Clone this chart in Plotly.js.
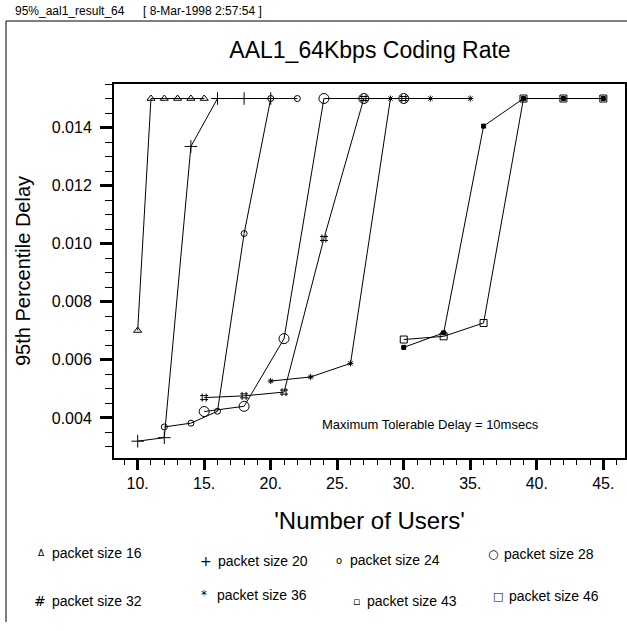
<!DOCTYPE html>
<html><head><meta charset="utf-8">
<script src="https://cdn.plot.ly/plotly-3.0.1.min.js"></script>
<style>html,body{margin:0;padding:0;background:#fff;} #chart{width:627px;height:631px;}</style>
</head><body><div id="chart"></div>
<script>
// ---- data ----
const users16 = [10, 11, 12, 13, 14, 15];
const delay16 = [0.00701, 0.0150, 0.0150, 0.0150, 0.0150, 0.0150];
const users20 = [10, 12, 14, 16, 18, 20];
const delay20 = [0.00320, 0.00332, 0.01335, 0.0150, 0.0150, 0.0150];
const users24 = [12, 14, 16, 18, 20, 22];
const delay24 = [0.00369, 0.00382, 0.00423, 0.01035, 0.0150, 0.0150];
const users28 = [15, 18, 21, 24, 27, 30];
const delay28 = [0.00422, 0.00440, 0.00673, 0.0150, 0.0150, 0.0150];
const users32 = [15, 18, 21, 24, 27, 30];
const delay32 = [0.00470, 0.00476, 0.00489, 0.01018, 0.0150, 0.0150];
const users36 = [20, 23, 26, 29, 32, 35];
const delay36 = [0.00527, 0.00541, 0.00588, 0.0150, 0.0150, 0.0150];
const users43 = [30, 33, 36, 39, 42, 45];
const delay43 = [0.00643, 0.00693, 0.01405, 0.0150, 0.0150, 0.0150];
const users46 = [30, 33, 36, 39, 42, 45];
const delay46 = [0.00670, 0.00681, 0.00727, 0.0150, 0.0150, 0.0150];

const seriesLabels = ['packet size 16','packet size 20','packet size 24','packet size 28',
                      'packet size 32','packet size 36','packet size 43','packet size 46'];
const legendGlyphs = ['\u0394','+','o','\u25CB','#','*','\u25AB','\u25A1'];

const xTickVals = [10, 15, 20, 25, 30, 35, 40, 45];
const xTickText = ['10.', '15.', '20.', '25.', '30.', '35.', '40.', '45.'];
const yTickVals = [0.004, 0.006, 0.008, 0.010, 0.012, 0.014];
const yTickText = ['0.004', '0.006', '0.008', '0.010', '0.012', '0.014'];

const headerName = '95%_aal1_result_64';
const headerDate = '[ 8-Mar-1998 2:57:54 ]';
const chartTitle = 'AAL1_64Kbps Coding Rate';
const xTitle = "'Number of Users'";
const yTitle = '95th Percentile Delay';
const noteText = 'Maximum Tolerable Delay = 10msecs';

// ---- styles ----
const W = 627, H = 631;
const px = v => v / W;
const py = v => 1 - v / H;
const FONT = 'Liberation Sans, Arial, Helvetica, sans-serif';

const xs = [users16, users20, users24, users28, users32, users36, users43, users46];
const ys = [delay16, delay20, delay24, delay28, delay32, delay36, delay43, delay46];
const markerStyles = [
  {symbol: 'triangle-up-open', size: 7},
  {symbol: 'cross-thin-open', size: 9},
  {symbol: 'circle-open', size: 6},
  {symbol: 'circle-open', size: 10},
  {symbol: 'hash-open', size: 8},
  {symbol: 'asterisk-open', size: 5},
  {symbol: 'square', size: 4},
  {symbol: 'square-open', size: 7}
];

const traces = xs.map((x, i) => ({
  type: 'scatter', mode: 'lines+markers', name: seriesLabels[i],
  x: x, y: ys[i],
  line: {color: 'black', width: 1},
  marker: {symbol: markerStyles[i].symbol, size: markerStyles[i].size, color: 'black',
           line: {color: 'black', width: 1}},
  cliponaxis: false
}));

// legend layout (pixel positions of glyph centre / text start / row centre)
const legendPos = [
  {g: 41, t: 50, y: 553, gs: 9},
  {g: 206, t: 216, y: 561, gs: 14},
  {g: 339, t: 348, y: 560, gs: 10},
  {g: 493, t: 502, y: 554, gs: 12},
  {g: 40, t: 50, y: 601, gs: 14},
  {g: 204, t: 215, y: 595, gs: 12},
  {g: 356, t: 365, y: 601, gs: 11},
  {g: 498, t: 507, y: 596, gs: 11}
];

const annotations = [];
seriesLabels.forEach((lab, i) => {
  const p = legendPos[i];
  annotations.push({xref: 'paper', yref: 'paper', x: px(p.g), y: py(p.y), xanchor: 'center', yanchor: 'middle',
    text: legendGlyphs[i], showarrow: false, font: {family: 'DejaVu Sans, ' + FONT, size: p.gs, color: 'black'}});
  annotations.push({xref: 'paper', yref: 'paper', x: px(p.t), y: py(p.y), xanchor: 'left', yanchor: 'middle',
    text: lab, showarrow: false, font: {family: FONT, size: 14, color: 'black'}});
});
annotations.push({xref: 'paper', yref: 'paper', x: px(320), y: py(424), xanchor: 'left', yanchor: 'middle',
  text: noteText, showarrow: false, font: {family: FONT, size: 13, color: 'black'}});
annotations.push({xref: 'paper', yref: 'paper', x: px(13), y: py(11), xanchor: 'left', yanchor: 'middle',
  text: headerName, showarrow: false, font: {family: FONT, size: 12, color: 'black'}});
annotations.push({xref: 'paper', yref: 'paper', x: px(141), y: py(11), xanchor: 'left', yanchor: 'middle',
  text: headerDate, showarrow: false, font: {family: FONT, size: 12, color: 'black'}});

const shapes = [
  {type: 'line', xref: 'paper', yref: 'paper', x0: px(6), x1: px(6), y0: py(21), y1: py(622), line: {color: 'black', width: 1}},
  {type: 'line', xref: 'paper', yref: 'paper', x0: px(6), x1: 1, y0: py(21), y1: py(21), line: {color: 'black', width: 1}}
];

const layout = {
  width: W, height: H,
  margin: {l: 0, r: 0, t: 0, b: 0},
  paper_bgcolor: 'white', plot_bgcolor: 'white',
  showlegend: false,
  font: {family: FONT, color: 'black'},
  title: {text: chartTitle, font: {family: FONT, size: 23, color: 'black'},
          x: px(370), xanchor: 'center', xref: 'paper', y: py(50), yanchor: 'middle', yref: 'paper'},
  xaxis: {
    domain: [px(114), px(625)], range: [8.22, 46.63],
    showgrid: false, zeroline: false,
    showline: true, mirror: true, linecolor: 'black', linewidth: 2,
    ticks: 'outside', ticklen: 10, tickwidth: 3, tickcolor: 'black',
    tickmode: 'array', tickvals: xTickVals, ticktext: xTickText,
    tickfont: {family: FONT, size: 16, color: 'black'},
    minor: {dtick: 1, tick0: 0, ticks: 'outside', ticklen: 5, tickwidth: 1, tickcolor: 'black', showgrid: false},
    title: {text: xTitle, font: {family: FONT, size: 24, color: 'black'}, standoff: 21}
  },
  yaxis: {
    domain: [py(458), py(84)], range: [0.00262, 0.0155],
    showgrid: false, zeroline: false,
    showline: true, mirror: true, linecolor: 'black', linewidth: 2,
    ticks: 'outside', ticklen: 12, tickwidth: 3, tickcolor: 'black',
    tickmode: 'array', tickvals: yTickVals, ticktext: yTickText,
    ticklabelstandoff: 5,
    tickfont: {family: FONT, size: 16, color: 'black'},
    minor: {dtick: 0.0005, tick0: 0, ticks: 'outside', ticklen: 7, tickwidth: 1, tickcolor: 'black', showgrid: false},
    title: {text: yTitle, font: {family: FONT, size: 20, color: 'black'}, standoff: 16}
  },
  annotations: annotations,
  shapes: shapes
};

Plotly.newPlot('chart', traces, layout, {displayModeBar: false, staticPlot: true});
</script></body></html>
